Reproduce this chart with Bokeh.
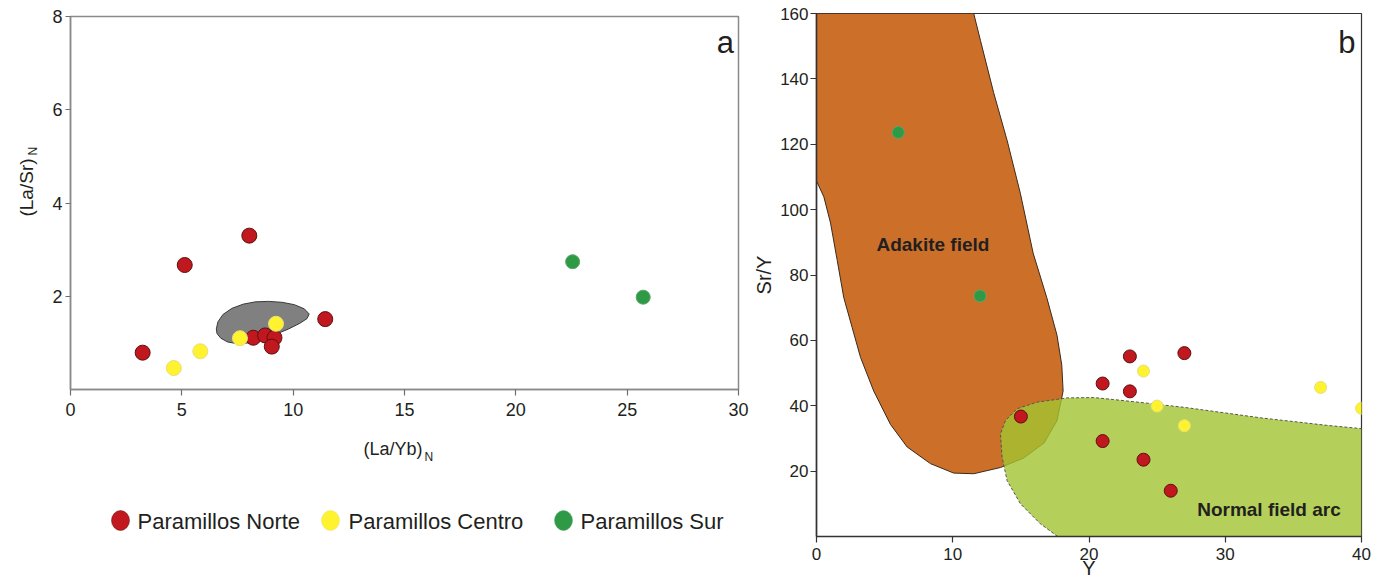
import math
from bokeh.plotting import figure
from bokeh.models import Range1d, FixedTicker, Label
from bokeh.layouts import row, column
from bokeh.embed import file_html
from bokeh.resources import INLINE
from bokeh.core.properties import value

FONT = "Liberation Sans"

# ---------------- Panel a data: (La/Yb)N vs (La/Sr)N ----------------
a_norte_layb = [3.24, 5.13, 8.03, 8.21, 8.74, 9.16, 9.04, 11.44]
a_norte_lasr = [0.79, 2.67, 3.30, 1.11, 1.16, 1.11, 0.92, 1.51]
a_centro_layb = [4.64, 5.83, 7.61, 9.23]
a_centro_lasr = [0.46, 0.82, 1.10, 1.41]
a_sur_layb = [22.55, 25.72]
a_sur_lasr = [2.74, 1.98]
gray_field_x = [6.55, 6.62, 6.85, 7.25, 7.75, 8.3, 8.9, 9.5, 10.05, 10.5, 10.72, 10.62,
                10.3, 9.8, 9.2, 8.6, 8.0, 7.5, 7.05, 6.75, 6.58]
gray_field_y = [1.30, 1.45, 1.61, 1.74, 1.83, 1.88, 1.89, 1.87, 1.82, 1.73, 1.62, 1.52,
                1.42, 1.30, 1.18, 1.08, 1.00, 0.98, 1.02, 1.10, 1.20]
a_xticks = [0, 5, 10, 15, 20, 25, 30]
a_yticks = [2, 4, 6, 8]

# ---------------- Panel b data: Y vs Sr/Y ----------------
b_norte_y = [15, 21, 21, 23, 23, 24, 26, 27]
b_norte_sry = [36.7, 29.2, 46.8, 55.1, 44.4, 23.5, 14.0, 56.1]
b_centro_y = [24, 25, 27, 37, 40]
b_centro_sry = [50.6, 39.9, 33.9, 45.6, 39.2]
b_sur_y = [6, 12]
b_sur_sry = [123.6, 73.6]
adakite_x = [0, 0, 0.54, 1.03, 1.52, 2.0, 2.62, 3.23, 4.2, 5.43, 6.65, 8.36, 10.07, 11.54,
             13.5, 15.2, 16.7, 17.65, 18.1, 18.0, 17.65, 16.9, 15.9, 14.96, 14.0, 13.0, 12.03, 11.54]
adakite_y = [160, 108.8, 103.9, 95.9, 84.5, 73.1, 63.9, 54.8, 44.5, 34.3, 27.4, 22.3, 19.4, 19.2,
             21.1, 24.0, 28.6, 35.4, 44.5, 52.5, 61.6, 73.1, 86.7, 105, 121, 135.8, 151.8, 160]
arc_x = [17.7, 16.43, 14.97, 13.99, 13.62, 13.5, 13.87, 14.72, 16.19, 18.39, 20.35, 21.8,
         24.26, 27.2, 32.6, 37.47, 40, 40]
arc_y = [0, 3.9, 10.0, 17.1, 24.3, 31.4, 35.5, 39.1, 41.1, 42.4, 42.5, 41.9,
         40.8, 39.4, 36.3, 34.0, 33.0, 0]
b_xticks = [0, 10, 20, 30, 40]
b_yticks = [20, 40, 60, 80, 100, 120, 140, 160]

legend_labels = ["Paramillos Norte", "Paramillos Centro", "Paramillos Sur"]

RED, RED_LINE = "#c0181e", "#5c1010"
YEL, YEL_LINE = "#fff22e", "#e9df7a"
GRN, GRN_LINE = "#2e9a46", "#5aa46a"
TXT = "#231f20"


def blank(p):
    p.grid.visible = False
    p.outline_line_color = None


# ---------------- y-title strip for panel a (canvas-pixel coordinates) ----------------
pyl = figure(width=40, height=583, output_backend="svg", toolbar_location=None,
             x_range=Range1d(0, 40), y_range=Range1d(536, 13),
             x_axis_type=None, y_axis_type=None,
             min_border_left=0, min_border_right=0, min_border_top=13, min_border_bottom=47)
blank(pyl)
pyl.text(x=[26], y=[187], text=["(La/Sr)"], angle=math.pi / 2, text_font=value(FONT),
         text_font_size="19px", text_color=TXT, text_align="center", text_baseline="alphabetic")
pyl.text(x=[32], y=[155], text=["N"], angle=math.pi / 2, text_font=value(FONT),
         text_font_size="12px", text_color=TXT, text_align="left", text_baseline="alphabetic")

# ---------------- Figure a ----------------
pa = figure(width=710, height=430, output_backend="svg", toolbar_location=None,
            x_range=Range1d(0, 30), y_range=Range1d(0, 8),
            min_border_left=30, min_border_right=12, min_border_top=16, min_border_bottom=41)
pa.grid.visible = False
pa.outline_line_color = "#8a8a8a"
pa.outline_line_width = 1.5
for ax in (pa.xaxis[0], pa.yaxis[0]):
    ax.axis_line_color = "#8a8a8a"
    ax.axis_line_width = 1.5
    ax.major_tick_line_color = "#6f6f6f"
    ax.major_tick_line_width = 1.2
    ax.minor_tick_line_color = None
    ax.major_tick_in = 0
    ax.major_label_text_font = FONT
    ax.major_label_text_font_size = "18px"
    ax.major_label_text_color = TXT
pa.xaxis.ticker = FixedTicker(ticks=a_xticks)
pa.yaxis.ticker = FixedTicker(ticks=a_yticks)
pa.xaxis.major_tick_out = 6
pa.xaxis.major_label_standoff = 7
pa.yaxis.major_tick_out = 5
pa.yaxis.major_label_standoff = 3

pa.patch(gray_field_x, gray_field_y, fill_color="#808080", line_color="#3a3a3a", line_width=1)
pa.scatter(a_norte_layb, a_norte_lasr, size=15, fill_color=RED, line_color=RED_LINE, line_width=1)
pa.scatter(a_centro_layb, a_centro_lasr, size=15, fill_color=YEL, line_color=YEL_LINE, line_width=1)
pa.scatter(a_sur_layb, a_sur_lasr, size=14, fill_color=GRN, line_color=GRN_LINE, line_width=1)

pa.add_layout(Label(x=29.8, y=7.44, text="a", text_align="right", text_baseline="alphabetic",
                    text_font=FONT, text_font_size="31px", text_color=TXT))

# ---------------- x-title + legend strip under panel a (canvas-pixel coordinates) ----------------
pl = figure(width=710, height=153, output_backend="svg", toolbar_location=None,
            x_range=Range1d(70, 738), y_range=Range1d(583, 430),
            x_axis_type=None, y_axis_type=None,
            min_border_left=30, min_border_right=12, min_border_top=0, min_border_bottom=0)
blank(pl)
pl.text(x=[363], y=[448], text=["(La/Yb)"], text_font=value(FONT), text_font_size="18px",
        text_color=TXT, text_align="left", text_baseline="alphabetic")
pl.text(x=[424], y=[456], text=["N"], text_font=value(FONT), text_font_size="12px",
        text_color=TXT, text_align="left", text_baseline="alphabetic")
leg_x = [120, 330, 563]
leg_tx = [137, 348, 580]
leg_colors = [RED, YEL, GRN]
leg_lines = [RED_LINE, YEL_LINE, GRN_LINE]
pl.ellipse(x=leg_x, y=[520] * 3, width=18, height=20, fill_color=leg_colors,
           line_color=leg_lines, line_width=0.5)
pl.text(x=leg_tx, y=[521] * 3, text=legend_labels, text_font=value(FONT),
        text_font_size="22px", text_color=TXT, text_align="left", text_baseline="middle")

# ---------------- Figure b ----------------
pb = figure(width=634, height=583, output_backend="svg", toolbar_location=None,
            x_range=Range1d(0, 40), y_range=Range1d(0, 160),
            min_border_left=66, min_border_right=23, min_border_top=13, min_border_bottom=47,
            x_axis_label="Y", y_axis_label="Sr/Y")
pb.grid.visible = False
pb.outline_line_color = "#333333"
pb.outline_line_width = 1.2
for ax in (pb.xaxis[0], pb.yaxis[0]):
    ax.axis_line_color = "#333333"
    ax.axis_line_width = 1.6
    ax.major_tick_line_color = "#333333"
    ax.major_tick_line_width = 1.2
    ax.minor_tick_line_color = None
    ax.major_tick_in = 0
    ax.major_tick_out = 6
    ax.major_label_text_font = FONT
    ax.major_label_text_font_size = "17px"
    ax.major_label_text_color = TXT
    ax.axis_label_text_font = FONT
    ax.axis_label_text_font_size = "20px"
    ax.axis_label_text_font_style = "normal"
    ax.axis_label_text_color = TXT
pb.xaxis.ticker = FixedTicker(ticks=b_xticks)
pb.yaxis.ticker = FixedTicker(ticks=b_yticks)
pb.xaxis.major_label_standoff = 5
pb.xaxis.axis_label_standoff = -6
pb.yaxis.major_label_standoff = 2
pb.yaxis.axis_label_standoff = 2

pb.patch(adakite_x, adakite_y, fill_color="#cc7029", line_color="#3b2a1c", line_width=1)
pb.patch(arc_x, arc_y, fill_color="#a2c431", fill_alpha=0.8, line_color="#555555",
         line_width=1, line_dash="3 2")
pb.scatter(b_sur_y, b_sur_sry, size=12, fill_color=GRN, line_color=GRN_LINE, line_width=1)
pb.scatter(b_norte_y, b_norte_sry, size=13, fill_color=RED, line_color=RED_LINE, line_width=1)
pb.scatter(b_centro_y, b_centro_sry, size=12, fill_color=YEL, line_color=YEL_LINE, line_width=1)

pb.add_layout(Label(x=4.4, y=89.2, text="Adakite field", text_align="left",
                    text_baseline="alphabetic", text_font=FONT, text_font_size="19px",
                    text_font_style="bold", text_color=TXT))
pb.add_layout(Label(x=27.94, y=8.3, text="Normal field arc", text_align="left",
                    text_baseline="alphabetic", text_font=FONT, text_font_size="19px",
                    text_font_style="bold", text_color=TXT))
pb.add_layout(Label(x=39.56, y=151.0, text="b", text_align="right", text_baseline="alphabetic",
                    text_font=FONT, text_font_size="31px", text_color=TXT))

layout = row(pyl, column(pa, pl), pb)
open("out.html", "w").write(file_html(layout, INLINE))
